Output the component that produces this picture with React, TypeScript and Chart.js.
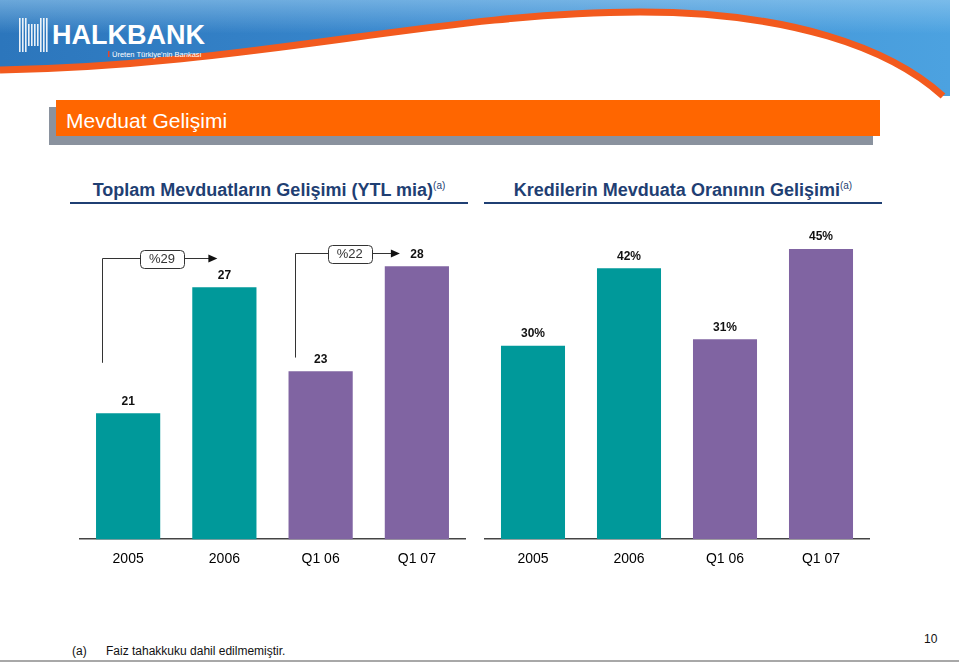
import React, { useEffect, useRef } from 'react';
import { Chart, registerables } from 'chart.js';

Chart.register(...registerables);

// ---- data ----
const categories = ['2005', '2006', 'Q1 06', 'Q1 07'];
const depositValues = [21, 27, 23, 28];
const ratioValues = [30, 42, 31, 45];
const barColors = ['#00999A', '#00999A', '#8064A2', '#8064A2'];
const growthLabels = ['%29', '%22'];
const growthFrom = [0, 2];
const growthTo = [1, 3];

const FONT = '"Liberation Sans", Arial, Helvetica, sans-serif';

// annotation geometry (in scale units / pixel offsets)
const growthGeometry = [
  { top: 28.4, bottom: 23.4, startDx: -26, tipDx: -7 },
  { top: 28.65, bottom: 23.65, startDx: -26, tipDx: -17 },
];

function makeValueLabelPlugin(values: number[], suffix: string) {
  return {
    id: 'valueLabels',
    afterDatasetsDraw(chart: any) {
      const { ctx } = chart;
      const meta = chart.getDatasetMeta(0);
      ctx.save();
      ctx.font = `bold 12px ${FONT}`;
      ctx.fillStyle = '#111';
      ctx.textAlign = 'center';
      ctx.textBaseline = 'middle';
      meta.data.forEach((bar: any, i: number) => {
        ctx.fillText(String(values[i]) + suffix, bar.x, bar.y - 12);
      });
      ctx.restore();
    },
  };
}

function makeGrowthPlugin() {
  return {
    id: 'growthBrackets',
    afterDatasetsDraw(chart: any) {
      const { ctx } = chart;
      const xs = chart.scales.x;
      const ys = chart.scales.y;
      growthLabels.forEach((label, i) => {
        const g = growthGeometry[i];
        const x0 = Math.round(xs.getPixelForValue(growthFrom[i]) + g.startDx) + 0.5;
        const x1 = xs.getPixelForValue(growthTo[i]) + g.tipDx;
        const yT = Math.round(ys.getPixelForValue(g.top)) + 0.5;
        const yB = ys.getPixelForValue(g.bottom);
        ctx.save();
        ctx.strokeStyle = '#333';
        ctx.lineWidth = 1;
        ctx.beginPath();
        ctx.moveTo(x0, yB);
        ctx.lineTo(x0, yT);
        ctx.lineTo(x1 - 6, yT);
        ctx.stroke();
        ctx.fillStyle = '#111';
        ctx.beginPath();
        ctx.moveTo(x1, yT);
        ctx.lineTo(x1 - 9, yT - 4);
        ctx.lineTo(x1 - 9, yT + 4);
        ctx.closePath();
        ctx.fill();
        const cx = (x0 + x1) / 2 + 2;
        const w = 44;
        const h = 18;
        const bx = Math.round(cx - w / 2) + 0.5;
        const by = Math.round(yT - h / 2) + 0.5;
        ctx.beginPath();
        ctx.roundRect(bx, by, w, h, 4);
        ctx.fillStyle = '#fff';
        ctx.fill();
        ctx.strokeStyle = '#333';
        ctx.stroke();
        ctx.fillStyle = '#333';
        ctx.font = `13px ${FONT}`;
        ctx.textAlign = 'center';
        ctx.textBaseline = 'middle';
        ctx.fillText(label, cx, yT + 1);
        ctx.restore();
      });
    },
  };
}

function makeConfig(values: number[], min: number, max: number, padL: number, padR: number, plugins: any[]) {
  return {
    type: 'bar' as const,
    data: {
      labels: categories,
      datasets: [
        {
          data: values,
          backgroundColor: barColors,
          barPercentage: 0.667,
          categoryPercentage: 1,
        },
      ],
    },
    options: {
      animation: false as const,
      responsive: false,
      maintainAspectRatio: false,
      layout: { padding: { left: padL, right: padR, top: 0, bottom: 0 } },
      plugins: {
        legend: { display: false },
        tooltip: { enabled: false },
        title: { display: false },
      },
      scales: {
        x: {
          grid: { display: false, drawTicks: false },
          border: { display: true, color: '#444', width: 1.5 },
          ticks: { color: '#000', font: { size: 14, family: FONT }, padding: 12 },
        },
        y: { display: false, min, max },
      },
    },
    plugins,
  };
}

const CANVAS_H = 360;

function BarChart(props: { values: number[]; min: number; max: number; suffix: string; growth: boolean; left: number; width: number; padL: number; padR: number }) {
  const ref = useRef<HTMLCanvasElement | null>(null);
  useEffect(() => {
    if (!ref.current) return;
    const plugins: any[] = [makeValueLabelPlugin(props.values, props.suffix)];
    if (props.growth) plugins.push(makeGrowthPlugin());
    const chart = new Chart(ref.current, makeConfig(props.values, props.min, props.max, props.padL, props.padR, plugins) as any);
    return () => chart.destroy();
  }, []);
  return (
    <canvas
      ref={ref}
      width={props.width}
      height={CANVAS_H}
      style={{ position: 'absolute', left: props.left, top: 220, width: props.width, height: CANVAS_H, display: 'block' }}
    />
  );
}

function Header() {
  return (
    <svg width={959} height={100} style={{ position: 'absolute', left: 0, top: 0, display: 'block' }}>
      <defs>
        <linearGradient id="blueG" x1="0" y1="0" x2="1" y2="0">
          <stop offset="0" stopColor="#2C76BC" />
          <stop offset="0.5" stopColor="#3A8AD0" />
          <stop offset="1" stopColor="#4CA2E0" />
        </linearGradient>
        <linearGradient id="shine" x1="0" y1="0" x2="0" y2="1">
          <stop offset="0" stopColor="#9FD0F2" stopOpacity="0.55" />
          <stop offset="0.35" stopColor="#9FD0F2" stopOpacity="0" />
        </linearGradient>
      </defs>
      <path d="M0,0 H950 V96 H943 C890,48 790,12 640,12 C440,12 250,66 0,70 Z" fill="url(#blueG)" />
      <path d="M0,0 H950 V96 H943 C890,48 790,12 640,12 C440,12 250,66 0,70 Z" fill="url(#shine)" />
      <path d="M0,70 C250,66 440,12 640,12 C790,12 890,48 943,96" fill="none" stroke="#F25A1E" strokeWidth={7} />
      {/* logo icon */}
      <g fill="#FFFFFF" opacity={0.9}>
        {[19, 22, 25, 28, 31, 34, 37, 40, 43, 46].map((x, i) => {
          const mid = i >= 3 && i <= 6;
          return <rect key={x} x={x} y={mid ? 24 : 18} width={1.6} height={mid ? 22 : 34} />;
        })}
      </g>
      <text x={52} y={44} fill="#FFFFFF" fontFamily={FONT} fontWeight="bold" fontSize={27}>HALKBANK</text>
      <rect x={108} y={51} width={1.5} height={6} fill="#E8452A" />
      <text x={112} y={57} fill="#FFFFFF" fontFamily={FONT} fontSize={7.5}>Üreten Türkiye'nin Bankası</text>
    </svg>
  );
}

export default function App() {
  useEffect(() => {
    document.body.style.margin = '0';
  }, []);
  const titleStyle: React.CSSProperties = {
    position: 'absolute',
    top: 180,
    fontFamily: FONT,
    fontWeight: 'bold',
    fontSize: 18,
    color: '#1F3F73',
    textAlign: 'center',
    whiteSpace: 'nowrap',
    lineHeight: '20px',
  };
  const supStyle: React.CSSProperties = { fontSize: 10, verticalAlign: 'top', lineHeight: '12px', fontWeight: 'normal' };
  return (
    <div style={{ position: 'fixed', left: 0, top: 0, width: 959, height: 663, overflow: 'hidden', background: '#fff', fontFamily: FONT }}>
      <Header />
      {/* section title bar */}
      <div style={{ position: 'absolute', left: 49, top: 107, width: 824, height: 38, background: '#8A929E' }} />
      <div style={{ position: 'absolute', left: 56, top: 100, width: 824, height: 36, background: '#FF6600' }} />
      <div style={{ position: 'absolute', left: 66, top: 108, color: '#fff', fontSize: 21, lineHeight: '26px', whiteSpace: 'nowrap' }}>Mevduat Gelişimi</div>

      {/* chart titles */}
      <div style={{ ...titleStyle, left: 70, width: 398 }}>
        Toplam Mevduatların Gelişimi (YTL mia)<sup style={supStyle}>(a)</sup>
      </div>
      <div style={{ position: 'absolute', left: 70, top: 202, width: 398, height: 2, background: '#1F3F73' }} />
      <div style={{ ...titleStyle, left: 484, width: 398 }}>
        Kredilerin Mevduata Oranının Gelişimi<sup style={supStyle}>(a)</sup>
      </div>
      <div style={{ position: 'absolute', left: 484, top: 202, width: 398, height: 2, background: '#1F3F73' }} />

      <BarChart values={depositValues} min={15} max={30.2} suffix="" growth={true} left={70} width={408} padL={10} padR={13} />
      <BarChart values={ratioValues} min={0} max={49.5} suffix="%" growth={false} left={475} width={405} padL={10} padR={11} />

      {/* footer */}
      <div style={{ position: 'absolute', left: 72, top: 644, fontSize: 12, lineHeight: '15px', color: '#111', whiteSpace: 'nowrap' }}>(a)</div>
      <div style={{ position: 'absolute', left: 106, top: 644, fontSize: 12, lineHeight: '15px', color: '#111', whiteSpace: 'nowrap' }}>Faiz tahakkuku dahil edilmemiştir.</div>
      <div style={{ position: 'absolute', left: 924, top: 632, fontSize: 12, lineHeight: '15px', color: '#111' }}>10</div>
      <div style={{ position: 'absolute', left: 0, top: 660, width: 959, height: 2, background: '#A8A8A8' }} />
    </div>
  );
}
